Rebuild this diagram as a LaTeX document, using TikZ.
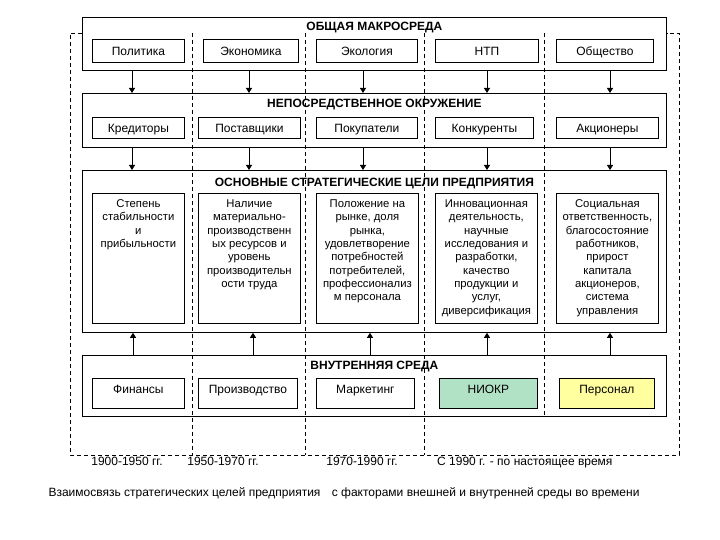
\documentclass[tikz,border=0pt]{standalone}
\usepackage{fontspec}
\setmainfont{Liberation Sans}
\usetikzlibrary{arrows.meta}
\definecolor{niokrfill}{RGB}{178,226,198}
\definecolor{persfill}{RGB}{255,255,160}
\begin{document}
\begin{tikzpicture}[x=1pt,y=-1pt,
  bigbox/.style={draw, line width=0.8pt, inner sep=0pt, anchor=north west},
  smallbox/.style={draw, line width=0.8pt, inner sep=0pt, anchor=north west, font=\fontsize{12}{14}\selectfont, text height=10pt, text depth=0pt},
  lowbox/.style={smallbox, text height=8.5pt, text depth=8.5pt},
  goalbox/.style={draw, line width=0.8pt, inner sep=0pt, anchor=north west, minimum height=130pt},
  goal/.style={anchor=north, align=center, inner sep=0pt, yshift=-5.1pt, font=\fontsize{11.3}{13.3}\selectfont},
  ttl/.style={anchor=base, inner sep=0pt, font=\bfseries\fontsize{12}{14}\selectfont},
  period/.style={dash pattern=on 4pt off 3pt, line width=0.7pt},
  arr/.style={line width=0.9pt, -{Triangle[length=5pt,width=6pt]}},
  lbl/.style={anchor=base, inner sep=0pt, font=\fontsize{12}{14}\selectfont}
]
\useasboundingbox[fill=white] (0,0) rectangle (720,540);

% frame corners and period boundaries
\coordinate (dTL) at (70,33);
\coordinate (dTR) at (679,33);
\coordinate (dBL) at (70,455);
\coordinate (dBR) at (679,455);
\coordinate (v1t) at (192,33); \coordinate (v1b) at (192,455);
\coordinate (v2t) at (305,33); \coordinate (v2b) at (305,455);
\coordinate (v3t) at (424,33); \coordinate (v3b) at (424,455);
\coordinate (v4t) at (544,33); \coordinate (v4b) at (544,416);

% big boxes
\node[bigbox, minimum width=584pt, minimum height=53pt,
  label={[ttl, yshift=-13.7pt]north:ОБЩАЯ МАКРОСРЕДА}] (macro) at (82,17) {};
\node[bigbox, minimum width=584pt, minimum height=54pt,
  label={[ttl, yshift=-14.7pt]north:НЕПОСРЕДСТВЕННОЕ ОКРУЖЕНИЕ}] (imm) at (82,93) {};
\node[bigbox, minimum width=584pt, minimum height=162pt,
  label={[ttl, yshift=-17pt]north:ОСНОВНЫЕ СТРАТЕГИЧЕСКИЕ ЦЕЛИ ПРЕДПРИЯТИЯ}] (strat) at (82,170) {};
\node[bigbox, minimum width=584pt, minimum height=61pt,
  label={[ttl, yshift=-14.3pt]north:ВНУТРЕННЯЯ СРЕДА}] (intl) at (82,355) {};

% dashed time frame
\draw[period] (macro.west |- dTL) -- (dTL) -- (dBL) -- (dBR) -- (dTR) -- (macro.east |- dTR);
\draw[period] (v1t) -- (v1b);
\draw[period] (v2t) -- (v2b);
\draw[period] (v3t) -- (v3b);
\draw[period] (v4t) -- (v4b);

% row 1
\node[smallbox, minimum width=92pt, minimum height=23pt] (pol) at (92,39) {Политика};
\node[smallbox, minimum width=95pt, minimum height=23pt] (eco) at (203,39) {Экономика};
\node[smallbox, minimum width=101pt, minimum height=23pt] (ecol) at (316,39) {Экология};
\node[smallbox, minimum width=103pt, minimum height=23pt] (ntp) at (435,39) {НТП};
\node[smallbox, minimum width=97pt, minimum height=23pt] (soc) at (556,39) {Общество};

% row 2
\node[smallbox, minimum width=92pt, minimum height=21pt] (cred) at (92,117) {Кредиторы};
\node[smallbox, minimum width=102pt, minimum height=21pt] (supp) at (198,117) {Поставщики};
\node[smallbox, minimum width=101pt, minimum height=21pt] (cust) at (316,117) {Покупатели};
\node[smallbox, minimum width=98pt, minimum height=21pt] (comp) at (435,117) {Конкуренты};
\node[smallbox, minimum width=102pt, minimum height=21pt] (share) at (556,117) {Акционеры};

% goals
\node[goalbox, minimum width=92pt,
  label={[goal]north:\strut Степень\\стабильности\\и\\прибыльности}] (g1) at (92,193) {};
\node[goalbox, minimum width=102pt,
  label={[goal]north:\strut Наличие\\материально-\\производственн\\ых ресурсов и\\уровень\\производительн\\ости труда}] (g2) at (198,193) {};
\node[goalbox, minimum width=102pt,
  label={[goal]north:\strut Положение на\\рынке, доля\\рынка,\\удовлетворение\\потребностей\\потребителей,\\профессионализ\\м персонала}] (g3) at (316,193) {};
\node[goalbox, minimum width=102pt,
  label={[goal]north:\strut Инновационная\\деятельность,\\научные\\исследования и\\разработки,\\качество\\продукции и\\услуг,\\диверсификация}] (g4) at (435,193) {};
\node[goalbox, minimum width=102pt,
  label={[goal]north:\strut Социальная\\ответственность,\\благосостояние\\работников,\\прирост\\капитала\\акционеров,\\система\\управления}] (g5) at (556,193) {};

% internal row
\node[lowbox, minimum width=92pt, minimum height=30pt] (fin) at (92,378) {Финансы};
\node[lowbox, minimum width=99pt, minimum height=30pt] (prod) at (198,378) {Производство};
\node[lowbox, minimum width=98pt, minimum height=30pt] (mark) at (316,378) {Маркетинг};
\node[lowbox, fill=niokrfill, minimum width=98pt, minimum height=30pt] (rnd) at (439,378) {НИОКР};
\node[lowbox, fill=persfill, minimum width=95pt, minimum height=30pt] (pers) at (559,378) {Персонал};

% arrow columns
\coordinate (a1) at (132,0); \coordinate (a2) at (249,0); \coordinate (a3) at (363,0);
\coordinate (a4) at (487,0); \coordinate (a5) at (610,0);
\coordinate (b1) at (133,0); \coordinate (b2) at (253,0); \coordinate (b3) at (370,0);
\coordinate (b4) at (487,0); \coordinate (b5) at (610,0);

\foreach \c in {a1,a2,a3,a4,a5}{
  \draw[arr] (macro.south -| \c) -- (imm.north -| \c);
  \draw[arr] (imm.south -| \c) -- (strat.north -| \c);
}
\foreach \c in {b1,b2,b3,b4,b5}{
  \draw[arr] (intl.north -| \c) -- (strat.south -| \c);
}

% period labels
\node[lbl] (p1) at (127,465) {1900-1950 гг.};
\node[lbl] (p2) at (223,465) {1950-1970 гг.};
\node[lbl] (p3) at (362,465) {1970-1990 гг.};
\node[lbl, anchor=base west] (p4) at (437,465) {С 1990 г. - по настоящее время};

% caption
\node[lbl] (cap) at (344,496) {Взаимосвязь стратегических целей предприятия\hspace{8pt} с факторами внешней и внутренней среды во времени};
\end{tikzpicture}
\end{document}
